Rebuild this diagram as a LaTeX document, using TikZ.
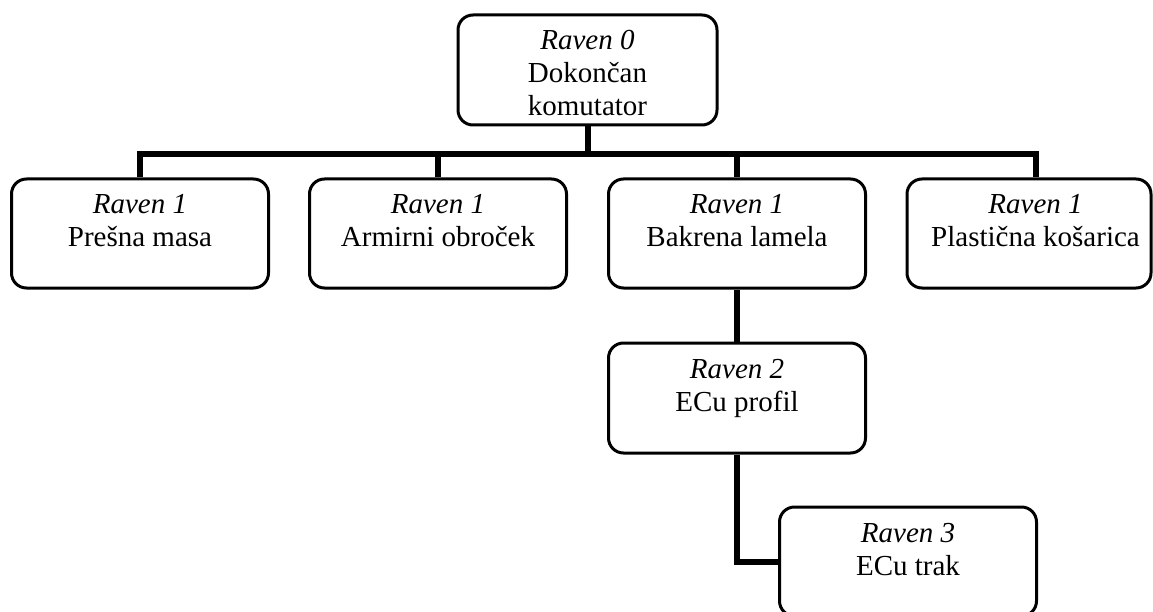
\documentclass[tikz,border=0pt]{standalone}
\usepackage{fontspec}
\setmainfont{Liberation Serif}
\tikzset{
  box/.style={draw, line width=3pt, rounded corners=15pt, inner sep=0pt,
    font=\fontsize{29}{33}\selectfont},
  conn/.style={line width=6pt}
}
\newcommand{\bxt}[4]{\parbox[c][#1][t]{#2}{\centering\rule{0pt}{35pt}\textit{#3}\\#4}}
\begin{document}
\begin{tikzpicture}[x=1pt,y=-1pt]
\useasboundingbox (0,0) rectangle (1153,612);
\clip (0,0) rectangle (1153,612);
\fill[white] (0,0) rectangle (1153,612);
\node[box] (top) at (587.5,70) {\bxt{110pt}{259pt}{Raven 0}{Dokončan\\komutator}};
\node[box] (b1) at (140,233.5) {\bxt{109pt}{257pt}{Raven 1}{Prešna masa}};
\node[box] (b2) at (438,233.5) {\bxt{109pt}{257pt}{Raven 1}{Armirni obroček}};
\node[box] (b3) at (737,233.5) {\bxt{109pt}{257pt}{Raven 1}{Bakrena lamela}};
\node[box] (b4) at (1029,233.5) {\parbox[c][109pt][t]{244pt}{\centering\rule{0pt}{35pt}\hspace*{13pt}\textit{Raven 1}\\\hspace*{13pt}Plastična košarica}};
\node[box] (b5) at (737,398) {\bxt{110pt}{257pt}{Raven 2}{ECu profil}};
\node[box] (b6) at (908,561.5) {\bxt{109pt}{257pt}{Raven 3}{ECu trak}};
\coordinate (bus) at (587.5,154);
\coordinate (s4) at ([xshift=6.5pt]b4.north);
\draw[conn] (top.south) -- (bus);
\draw[conn] (b1.north) -- (b1.north |- bus) -- (s4 |- bus) -- (s4);
\draw[conn] (b2.north) -- (b2.north |- bus);
\draw[conn] (b3.north) -- (b3.north |- bus);
\draw[conn] (b3.south) -- (b5.north);
\draw[conn] (b5.south) |- (b6.west);
\end{tikzpicture}
\end{document}
